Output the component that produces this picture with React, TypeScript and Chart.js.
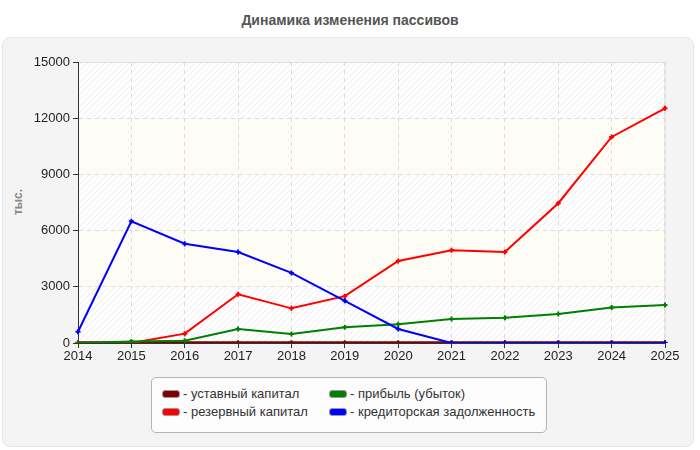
import { useEffect, useRef } from 'react';
import { Chart, ChartConfiguration, Plugin, registerables } from 'chart.js';

Chart.register(...registerables);

// Years along the x axis
const years = ['2014', '2015', '2016', '2017', '2018', '2019', '2020', '2021', '2022', '2023', '2024', '2025'];

// Series values, thousands
const charterCapital = [10, 10, 10, 10, 10, 10, 10, 10, 10, 10, 10, 10];
const reserveCapital = [0, 0, 500, 2600, 1850, 2500, 4380, 4950, 4860, 7460, 11000, 12530];
const profit = [0, 80, 120, 750, 480, 840, 1000, 1280, 1350, 1550, 1900, 2030];
const payables = [600, 6500, 5300, 4860, 3740, 2250, 750, 0, 0, 0, 0, 0];

const yTicks = [0, 3000, 6000, 9000, 12000, 15000];

const legendItems = [
  { label: '- уставный капитал', color: '#800000' },
  { label: '- резервный капитал', color: '#ff0000' },
  { label: '- прибыль (убыток)', color: '#008000' },
  { label: '- кредиторская задолженность', color: '#0000ff' },
];

const FONT = '"Liberation Sans", Arial, sans-serif';

function makeHatch(): CanvasPattern | null {
  const c = document.createElement('canvas');
  c.width = 6;
  c.height = 6;
  const g = c.getContext('2d');
  if (!g) return null;
  g.fillStyle = '#ffffff';
  g.fillRect(0, 0, 6, 6);
  g.strokeStyle = '#ececec';
  g.lineWidth = 1;
  g.beginPath();
  g.moveTo(0, 6);
  g.lineTo(6, 0);
  g.moveTo(-1, 1);
  g.lineTo(1, -1);
  g.moveTo(5, 7);
  g.lineTo(7, 5);
  g.stroke();
  return g.createPattern(c, 'repeat');
}

// Alternating hatched / plain bands behind the plot
const bandsPlugin: Plugin<'line'> = {
  id: 'bands',
  beforeDraw(chart) {
    const { ctx, chartArea: a, scales } = chart;
    const y = scales.y;
    const hatch = makeHatch();
    ctx.save();
    for (let i = 0; i < yTicks.length - 1; i++) {
      const top = y.getPixelForValue(yTicks[i + 1]);
      const bottom = y.getPixelForValue(yTicks[i]);
      ctx.fillStyle = i % 2 === 0 ? (hatch || '#ffffff') : '#fdfdf6';
      ctx.fillRect(a.left, top, a.right - a.left, bottom - top);
    }
    ctx.strokeStyle = '#e2e2e2';
    ctx.lineWidth = 1;
    ctx.strokeRect(a.left + 0.5, a.top + 0.5, a.right - a.left - 1, a.bottom - a.top);
    ctx.restore();
  },
};

function dataset(label: string, data: number[], color: string, order: number, width = 2) {
  return {
    label,
    data,
    borderColor: color,
    backgroundColor: color,
    borderWidth: width,
    pointStyle: 'cross' as const,
    pointRadius: 2.5,
    pointBorderWidth: 2,
    tension: 0,
    fill: false,
    order,
  };
}

function LiabilitiesChart() {
  const canvasRef = useRef<HTMLCanvasElement>(null);
  const chartRef = useRef<Chart | null>(null);

  useEffect(() => {
    if (!canvasRef.current) return;
    if (chartRef.current) chartRef.current.destroy();

    const config: ChartConfiguration<'line'> = {
      type: 'line',
      data: {
        labels: years,
        datasets: [
          dataset('уставный капитал', charterCapital, '#800000', 3, 3),
          dataset('резервный капитал', reserveCapital, '#ff0000', 2),
          dataset('прибыль (убыток)', profit, '#008000', 1),
          dataset('кредиторская задолженность', payables, '#0000ff', 0),
        ],
      },
      options: {
        responsive: false,
        animation: false,
        layout: { padding: { left: 0, top: 62, right: 35, bottom: 7 } },
        plugins: {
          legend: { display: false },
          title: { display: false },
          tooltip: { enabled: false },
        },
        scales: {
          x: {
            offset: false,
            afterFit: (s) => { s.height = 22; },
            ticks: { color: '#222', font: { family: FONT, size: 13 }, padding: 1, maxRotation: 0 },
            grid: { color: '#dcdcdc', tickColor: '#333', tickLength: 5 },
            border: { color: '#333', dash: [4, 4] },
          },
          y: {
            min: 0,
            max: 15000,
            afterFit: (s) => { s.width = 78; },
            afterBuildTicks: (s) => { s.ticks = yTicks.map((v) => ({ value: v })); },
            ticks: {
              color: '#222',
              font: { family: FONT, size: 13 },
              padding: 3,
              callback: (v) => String(v),
            },
            grid: { color: '#dcdcdc', tickColor: '#333', tickLength: 5 },
            border: { color: '#333', dash: [4, 4] },
          },
        },
      },
      plugins: [bandsPlugin],
    };

    chartRef.current = new Chart(canvasRef.current, config);
    return () => {
      if (chartRef.current) {
        chartRef.current.destroy();
        chartRef.current = null;
      }
    };
  }, []);

  return (
    <canvas
      ref={canvasRef}
      width={700}
      height={372}
      style={{ position: 'absolute', left: 0, top: 0, width: 700, height: 372 }}
    />
  );
}

export default function App() {
  return (
    <div style={{ position: 'absolute', left: 0, top: 0, width: 700, height: 450, background: '#fff', fontFamily: FONT, overflow: 'hidden' }}>
      <div style={{ position: 'absolute', left: 0, top: 12, width: 700, textAlign: 'center', fontSize: 14, fontWeight: 'bold', color: '#555' }}>
        Динамика изменения пассивов
      </div>
      <div style={{ position: 'absolute', left: 2, top: 37, width: 692, height: 410, background: '#f4f4f4', border: '1px solid #e6e6e6', borderRadius: 8, boxSizing: 'border-box' }} />
      <div style={{ position: 'absolute', left: 18, top: 202, transform: 'translate(-50%, -50%) rotate(-90deg)', fontSize: 12, fontWeight: 'bold', color: '#888', whiteSpace: 'nowrap' }}>
        тыс.
      </div>
      <LiabilitiesChart />
      <div style={{ position: 'absolute', left: 151, top: 377, width: 396, height: 56, background: '#fcfcfc', border: '1px solid #b4b4b4', borderRadius: 5, boxSizing: 'border-box' }}>
        {legendItems.map((item, i) => {
          const col = Math.floor(i / 2);
          const row = i % 2;
          const left = col === 0 ? 10 : 177;
          const cy = row === 0 ? 16 : 34;
          return (
            <div key={item.label}>
              <div style={{ position: 'absolute', left, top: cy - 4, width: 18, height: 8, background: item.color, border: '1px solid #999', borderRadius: 3, boxSizing: 'border-box' }} />
              <div style={{ position: 'absolute', left: left + 21, top: cy - 8, fontSize: 13, lineHeight: '16px', color: '#333', whiteSpace: 'nowrap' }}>
                {item.label}
              </div>
            </div>
          );
        })}
      </div>
    </div>
  );
}
